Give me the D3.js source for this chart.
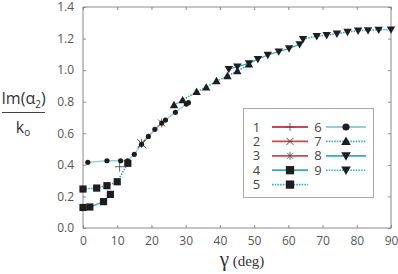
<!DOCTYPE html>
<html>
<head>
<meta charset="utf-8">
<script src="https://cdn.jsdelivr.net/npm/d3@7"></script>
<style>
html, body { margin: 0; padding: 0; background: #fff; }
svg { display: block; }
.tick text { font: 12px "Open Sans", "DejaVu Sans", sans-serif; fill: #555; }
</style>
</head>
<body>
<svg id="chart" width="398" height="274"></svg>
<script>
// tick labels
var xTicks = [0, 10, 20, 30, 40, 50, 60, 70, 80, 90];
var yTicks = [0.0, 0.2, 0.4, 0.6, 0.8, 1.0, 1.2, 1.4];

// series [gamma, Im(a2)/k0]
var s1 = [[10.7, 0.388]];
var s2 = [[17.2, 0.533]];
var s3 = [[17.1, 0.536], [23.0, 0.665]];
var s4 = [[0, 0.13], [2, 0.133], [6, 0.167], [8, 0.213]];
var s5 = [[0, 0.247], [4, 0.253], [7, 0.268], [10, 0.293], [13.1, 0.41]];
var s6 = [[1.4, 0.416], [7, 0.426], [11, 0.426], [13, 0.425], [15, 0.467], [17.1, 0.53],
          [19.1, 0.58], [21, 0.625], [23, 0.665], [24.1, 0.684], [27, 0.733], [30.2, 0.785], [30.8, 0.794]];
var s7 = [[26.6, 0.779], [29.1, 0.81], [33.2, 0.863], [36, 0.891], [39, 0.931], [42.2, 0.963],
          [45.1, 0.994], [48.5, 1.036]];
var s8 = [[42.6, 1.007], [45.1, 1.022], [48.5, 1.043], [51.1, 1.07], [54, 1.096], [57.2, 1.117],
          [60.2, 1.138], [63.3, 1.163]];
var s9 = [[64.3, 1.197], [68.3, 1.215], [71.2, 1.221], [74.2, 1.231], [77.3, 1.242], [80.4, 1.25],
          [83.3, 1.252], [86.4, 1.255], [90, 1.257]];

var red = "#cf4652", cyan = "#3aa7c2", light = "#8dd0e0";

var series = [
  {name: "1", data: s1, color: red, dash: null, mark: "plus"},
  {name: "2", data: s2, color: red, dash: null, mark: "x"},
  {name: "3", data: s3, color: red, dash: null, mark: "star"},
  {name: "4", data: s4, color: cyan, dash: null, mark: "square"},
  {name: "5", data: s5, color: cyan, dash: "1.5,1.2", mark: "square"},
  {name: "6", data: s6, color: light, dash: null, mark: "circle"},
  {name: "7", data: s7, color: cyan, dash: "1.5,1.2", mark: "up"},
  {name: "8", data: s8, color: cyan, dash: null, mark: "down"},
  {name: "9", data: s9, color: cyan, dash: "1.5,1.2", mark: "down"}
];

var svg = d3.select("#chart");
var mLeft = 83, mRight = 391, mTop = 7, mBottom = 228;

var x = d3.scaleLinear().domain([0, 90]).range([mLeft, mRight]);
var y = d3.scaleLinear().domain([0, 1.4]).range([mBottom, mTop]);

// frame
svg.append("rect")
    .attr("x", mLeft).attr("y", mTop)
    .attr("width", mRight - mLeft).attr("height", mBottom - mTop)
    .attr("fill", "none").attr("stroke", "#8a8a8a").attr("stroke-width", 1);

function styleAxis(g) {
  g.select(".domain").remove();
  g.selectAll(".tick line").attr("stroke", "#8a8a8a");
}

svg.append("g").attr("transform", "translate(0," + mBottom + ")")
    .call(d3.axisBottom(x).tickValues(xTicks).tickSizeInner(-3).tickPadding(8).tickFormat(d3.format("d")))
    .call(styleAxis);
svg.append("g").attr("transform", "translate(0," + mTop + ")")
    .call(d3.axisTop(x).tickValues(xTicks).tickSizeInner(-3).tickFormat(""))
    .call(styleAxis);
svg.append("g").attr("transform", "translate(" + mLeft + ",0)")
    .call(d3.axisLeft(y).tickValues(yTicks).tickSizeInner(-3).tickPadding(9).tickFormat(d3.format(".1f")))
    .call(styleAxis);
svg.append("g").attr("transform", "translate(" + mRight + ",0)")
    .call(d3.axisRight(y).tickValues(yTicks).tickSizeInner(-3).tickFormat(""))
    .call(styleAxis);

// markers
function drawMark(g, kind, cx, cy, big) {
  var s = big ? 1.15 : 1;
  if (kind === "plus") {
    var p = big ? 4 : 5;
    g.append("path").attr("d", "M" + (cx - p) + "," + cy + "H" + (cx + p) + "M" + cx + "," + (cy - p) + "V" + (cy + p))
        .attr("stroke", "#555").attr("stroke-width", 0.9);
  } else if (kind === "x") {
    var r = big ? 3.5 : 4.5;
    g.append("path").attr("d", "M" + (cx - r) + "," + (cy - r) + "L" + (cx + r) + "," + (cy + r) +
        "M" + (cx - r) + "," + (cy + r) + "L" + (cx + r) + "," + (cy - r))
        .attr("stroke", "#444").attr("stroke-width", 1);
  } else if (kind === "star") {
    var q = big ? 3 : 3.5;
    g.append("path").attr("d", "M" + (cx - q) + "," + (cy - q) + "L" + (cx + q) + "," + (cy + q) +
        "M" + (cx - q) + "," + (cy + q) + "L" + (cx + q) + "," + (cy - q) +
        "M" + cx + "," + (cy - q - 1) + "V" + (cy + q + 1))
        .attr("stroke", "#555").attr("stroke-width", 0.9);
  } else if (kind === "square") {
    var h = 3.6 * s;
    g.append("rect").attr("x", cx - h).attr("y", cy - h).attr("width", 2 * h).attr("height", 2 * h)
        .attr("fill", "#1e1e1e");
  } else if (kind === "circle") {
    g.append("circle").attr("cx", cx).attr("cy", cy).attr("r", big ? 3.6 : 2.6).attr("fill", "#1e1e1e");
  } else if (kind === "up") {
    var a = 4.2 * s;
    g.append("path").attr("d", "M" + cx + "," + (cy - a) + "L" + (cx + a) + "," + (cy + a * 0.75) +
        "L" + (cx - a) + "," + (cy + a * 0.75) + "Z").attr("fill", "#1e1e1e");
  } else if (kind === "down") {
    var b = 4.2 * s;
    g.append("path").attr("d", "M" + cx + "," + (cy + b) + "L" + (cx + b) + "," + (cy - b * 0.75) +
        "L" + (cx - b) + "," + (cy - b * 0.75) + "Z").attr("fill", "#1e1e1e");
  }
}

var line = d3.line().x(function(d) { return x(d[0]); }).y(function(d) { return y(d[1]); });

var plot = svg.append("g");
series.forEach(function(s) {
  plot.append("path").datum(s.data)
      .attr("d", line)
      .attr("fill", "none")
      .attr("stroke", s.color)
      .attr("stroke-width", s.dash ? 1.6 : 1.3)
      .attr("stroke-dasharray", s.dash);
});
series.forEach(function(s) {
  s.data.forEach(function(d) { drawMark(plot, s.mark, x(d[0]), y(d[1]), false); });
});

// legend
var leg = svg.append("g");
leg.append("rect").attr("x", 243.5).attr("y", 108.5).attr("width", 130).attr("height", 89)
    .attr("fill", "#fff").attr("stroke", "#aaa").attr("stroke-width", 1);
series.forEach(function(s, i) {
  var col = i < 5 ? 0 : 1, row = i < 5 ? i : i - 5;
  var ly = 127 + row * 14.4;
  var nx = col ? 318 : 256.5, l0 = col ? 326 : 272, l1 = col ? 366 : 308;
  leg.append("text").attr("x", nx).attr("y", ly + 4.5).attr("text-anchor", "middle")
      .style("font", "13px 'Open Sans', 'DejaVu Sans', sans-serif").attr("fill", "#444").text(s.name);
  leg.append("line").attr("x1", l0).attr("x2", l1).attr("y1", ly).attr("y2", ly)
      .attr("stroke", s.color).attr("stroke-width", s.dash ? 1.6 : 1.8)
      .attr("stroke-dasharray", s.dash);
  drawMark(leg, s.mark, (l0 + l1) / 2, ly, true);
});

// y label: Im(a2) / k0
var serifFont = "'Liberation Serif', 'DejaVu Serif', serif";
var sansFont = "'Open Sans', 'DejaVu Sans', sans-serif";
var yl = svg.append("text").attr("x", 23.5).attr("y", 104).attr("text-anchor", "middle")
    .style("font", "16px " + sansFont).attr("fill", "#333");
yl.append("tspan").text("Im(α");
yl.append("tspan").attr("dy", 4).style("font-size", "10px").text("2");
yl.append("tspan").attr("dy", -4).text(")");
svg.append("line").attr("x1", 2).attr("x2", 45).attr("y1", 112.5).attr("y2", 112.5)
    .attr("stroke", "#444").attr("stroke-width", 1);
var kl = svg.append("text").attr("x", 23).attr("y", 133).attr("text-anchor", "middle")
    .style("font", "16px " + sansFont).attr("fill", "#333");
kl.append("tspan").text("k");
kl.append("tspan").attr("dy", 3).style("font-size", "10px").text("o");

// x label
var xl = svg.append("text").attr("x", 242).attr("y", 266).attr("text-anchor", "middle")
    .attr("fill", "#333").style("font-family", serifFont);
xl.append("tspan").style("font-size", "21px").text("γ");
xl.append("tspan").style("font-size", "15px").text(" (deg)");
</script>
</body>
</html>
